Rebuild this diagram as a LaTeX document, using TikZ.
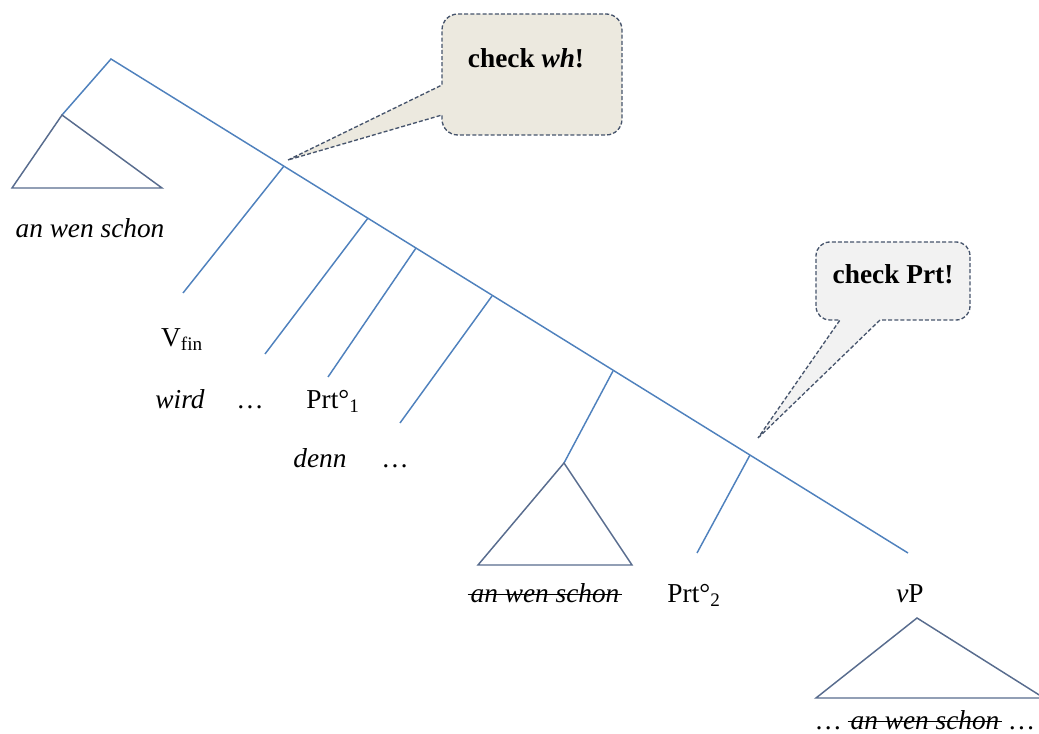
\documentclass[tikz,border=0pt]{standalone}
\usepackage{fontspec}
\setmainfont{Liberation Serif}
\definecolor{brblue}{RGB}{79,129,189}
\definecolor{trigray}{RGB}{88,108,142}
\definecolor{calldash}{RGB}{70,84,108}
\definecolor{callfillA}{RGB}{236,233,223}
\definecolor{callfillB}{RGB}{242,242,242}
\begin{document}
\begin{tikzpicture}[x=0.75pt,y=-0.75pt,
  br/.style={draw=brblue,line width=1.1pt},
  tri/.style={draw=trigray,line width=1.1pt,line join=miter},
  lbl/.style={inner sep=0pt,anchor=base,font=\fontsize{20.5}{24}\selectfont},
  itl/.style={lbl,font=\fontsize{20.5}{24}\selectfont\itshape},
  bld/.style={lbl,font=\fontsize{20.5}{24}\selectfont\bfseries},
  strike/.style={draw=black,line width=0.9pt},
  callout/.style={draw=calldash,dash pattern=on 3pt off 1.6pt,line width=1pt,line join=round}]
\useasboundingbox (0,0) rectangle (1039,734);

% callouts
\draw[callout,fill=callfillA] (288,160) -- (442,85) -- (442,30)
  .. controls (442,21) and (449,14) .. (458,14) -- (606,14)
  .. controls (615,14) and (622,21) .. (622,30) -- (622,119)
  .. controls (622,128) and (615,135) .. (606,135) -- (458,135)
  .. controls (449,135) and (442,128) .. (442,119) -- (442,115) -- cycle;
\draw[callout,fill=callfillB] (758,438) -- (880,320) -- (956,320)
  .. controls (964,320) and (970,314) .. (970,306) -- (970,256)
  .. controls (970,248) and (964,242) .. (956,242) -- (830,242)
  .. controls (822,242) and (816,248) .. (816,256) -- (816,306)
  .. controls (816,314) and (822,320) .. (830,320) -- (840,320) -- cycle;
\node[bld] (chk1) at (526,68) {check \textit{wh}!};
\node[bld] (chk2) at (893,284) {check Prt!};

% tree points
\coordinate (root) at (111,59);
\coordinate (spec) at (62,115);
\coordinate (n1) at (284,166);
\coordinate (n2) at (368,218);
\coordinate (n3) at (416,248);
\coordinate (n4) at (492,296);
\coordinate (n5) at (613,371);
\coordinate (n6) at (750,455);
\coordinate (vpend) at (908,553);
\coordinate (l1) at (183,293);
\coordinate (l2) at (265,354);
\coordinate (l3) at (328,377);
\coordinate (l4) at (400,423);
\coordinate (apexM) at (564,463);
\coordinate (l6) at (697,553);
\coordinate (apexR) at (917,618);

% branches
\draw[br] (spec) -- (root) -- (vpend);
\draw[br] (n1) -- (l1);
\draw[br] (n2) -- (l2);
\draw[br] (n3) -- (l3);
\draw[br] (n4) -- (l4);
\draw[br] (n5) -- (apexM);
\draw[br] (n6) -- (l6);

% triangles
\draw[tri] (spec) -- (12,188) -- (162,188) -- cycle;
\draw[tri] (apexM) -- (478,565) -- (632,565) -- cycle;
\draw[tri] (apexR) -- (816,698) -- (1044,698) -- cycle;

% labels
\node[itl] (awsL) at (90,238) {an wen schon};
\node[lbl] (vfin) at (182,346) {V\textsubscript{fin}};
\node[itl] (wird) at (180,408) {wird};
\node[lbl] (dotsA) at (250,408) {\ldots};
\node[lbl] (prt1) at (333,408) {Prt°\textsubscript{1}};
\node[itl] (denn) at (320,467) {denn};
\node[lbl] (dotsB) at (395,467) {\ldots};
\node[itl] (awsM) at (545,602) {an wen schon};
\draw[strike] ([xshift=-2pt,yshift=5.5pt]awsM.base west) -- ([xshift=2pt,yshift=5.5pt]awsM.base east);
\node[lbl] (prt2) at (694,602) {Prt°\textsubscript{2}};
\node[lbl] (vp) at (910,602) {\textit{v}P};
\node[itl] (awsR) at (925,729) {an wen schon};
\draw[strike] ([xshift=-2pt,yshift=5.5pt]awsR.base west) -- ([xshift=2pt,yshift=5.5pt]awsR.base east);
\node[lbl,anchor=base east] (dotsC) at ([xshift=-6pt]awsR.base west) {\ldots};
\node[lbl,anchor=base west] (dotsD) at ([xshift=6pt]awsR.base east) {\ldots};
\end{tikzpicture}
\end{document}
